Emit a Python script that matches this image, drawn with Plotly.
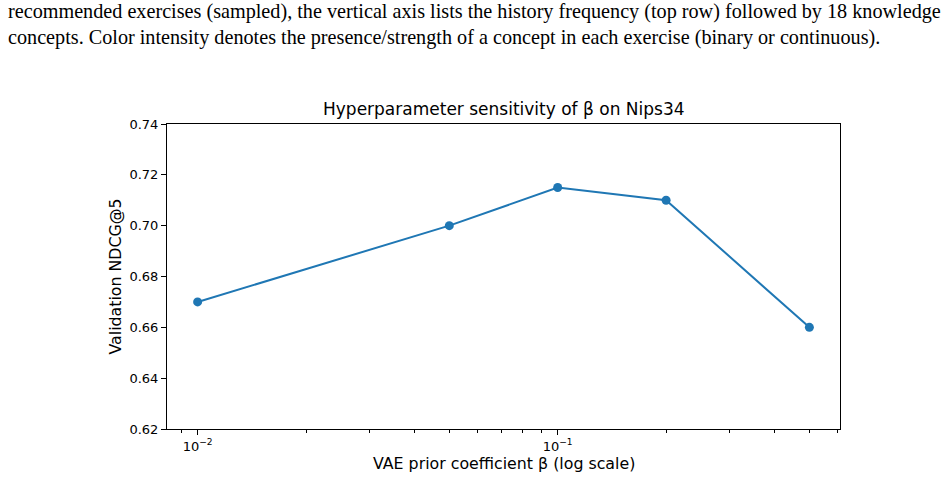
import plotly.graph_objects as go

beta = [0.01, 0.05, 0.1, 0.2, 0.5]
ndcg = [0.670, 0.700, 0.715, 0.710, 0.660]
y_ticks = [0.62, 0.64, 0.66, 0.68, 0.70, 0.72, 0.74]
x_tickvals = [0.01, 0.1]
x_ticktext = ["10<sup>−2</sup>", "10<sup>−1</sup>"]
caption = [
    "recommended exercises (sampled), the vertical axis lists the history frequency (top row) followed by 18 knowledge",
    "concepts. Color intensity denotes the presence/strength of a concept in each exercise (binary or continuous).",
]

W, H = 948, 478
L, R, T, B = 167, 840, 124, 429
pw, ph = R - L, B - T

def px(x):
    return (x - L) / pw

def py(y):
    return (B - y) / ph

fig = go.Figure()
fig.add_trace(go.Scatter(
    x=beta, y=ndcg, mode="lines+markers",
    line=dict(color="#1f77b4", width=2),
    marker=dict(color="#1f77b4", size=9),
    showlegend=False,
))

minor_vals = [m * 10 ** e for e in (-3, -2, -1) for m in range(2, 10)]

fig.update_layout(
    width=W, height=H,
    margin=dict(l=L, r=W - R, t=T, b=H - B),
    paper_bgcolor="white", plot_bgcolor="white",
    font=dict(family="DejaVu Sans", color="black"),
    xaxis=dict(
        type="log", range=[-2.085, -0.216],
        tickvals=x_tickvals, ticktext=x_ticktext,
        ticks="outside", ticklen=5, tickwidth=1, tickcolor="black",
        showline=True, linecolor="black", linewidth=1, mirror=True,
        showgrid=False, zeroline=False,
        tickfont=dict(size=13, family="DejaVu Sans"),
        minor=dict(tickvals=minor_vals, ticks="outside", ticklen=3, tickwidth=1, tickcolor="black", showgrid=False),
    ),
    yaxis=dict(
        range=[0.62, 0.74],
        tickvals=y_ticks, ticktext=[f"{v:.2f}" for v in y_ticks],
        ticks="outside", ticklen=5, tickwidth=1, tickcolor="black",
        showline=True, linecolor="black", linewidth=1, mirror=True,
        showgrid=False, zeroline=False,
        tickfont=dict(size=13, family="DejaVu Sans"),
    ),
)

ann = []
ann.append(dict(text="Hyperparameter sensitivity of β on Nips34", x=0.5, y=py(109),
                xref="paper", yref="paper", showarrow=False, xanchor="center", yanchor="middle",
                font=dict(size=17, family="DejaVu Sans", color="black")))
ann.append(dict(text="VAE prior coefficient β (log scale)", x=0.5, y=py(463),
                xref="paper", yref="paper", showarrow=False, xanchor="center", yanchor="middle",
                font=dict(size=15.8, family="DejaVu Sans", color="black")))
ann.append(dict(text="Validation NDCG@5", x=px(115), y=0.5, textangle=-90,
                xref="paper", yref="paper", showarrow=False, xanchor="center", yanchor="middle",
                font=dict(size=15.8, family="DejaVu Sans", color="black")))
for i, line in enumerate(caption):
    ann.append(dict(text=line, x=px(6), y=py(12 + 25 * i),
                    xref="paper", yref="paper", showarrow=False, xanchor="left", yanchor="middle",
                    font=dict(size=20.2, family="Liberation Serif", color="black")))
fig.update_layout(annotations=ann)

fig.write_html("out.html")
